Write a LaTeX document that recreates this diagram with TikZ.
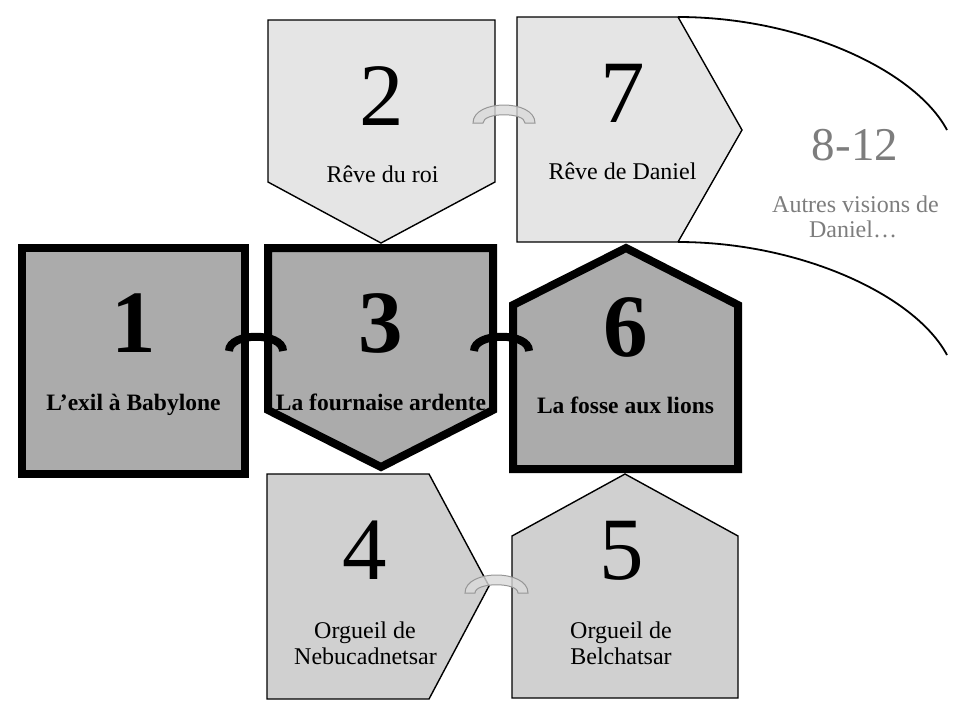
\documentclass[tikz,border=0pt]{standalone}
\usepackage{fontspec}
\setmainfont{Liberation Serif}
\definecolor{darkfill}{RGB}{171,171,171}
\definecolor{lightfill}{RGB}{229,229,229}
\definecolor{midfill}{RGB}{208,208,208}
\definecolor{txtgray}{RGB}{125,125,125}
\definecolor{linkfill}{RGB}{218,218,218}
\definecolor{linkedge}{RGB}{150,150,150}
\begin{document}
\begin{tikzpicture}[x=1pt,y=-1pt,
  thickbox/.style={draw=black, line width=8pt, fill=darkfill, line join=miter},
  thinbox/.style={draw=black, line width=1.4pt, line join=miter},
  num/.style={anchor=base, inner sep=0pt, font=\fontsize{89}{89}\selectfont},
  lbl/.style={anchor=base, inner sep=0pt, font=\fontsize{24}{25}\selectfont},
  blbl/.style={anchor=base, inner sep=0pt, font=\fontsize{23.5}{25}\selectfont\bfseries},
  darklink/.style={draw=black, line width=8pt, line cap=butt},
  greylink/.style={draw=linkedge, line width=1pt, fill=linkfill, fill opacity=0.8},
  bigcurve/.style={draw=black, line width=1.8pt}
]
\useasboundingbox (0,0) rectangle (966,715);

% light boxes
\draw[thinbox, fill=lightfill] (268,20) -- (495,20) -- (495,182) -- (381,243) -- (268,182) -- cycle;
\draw[thinbox, fill=lightfill] (517,17) coordinate (b7l) -- (678,17) coordinate (b7tr) -- (742,130) -- (678,242) coordinate (b7br) -- (517,242) -- cycle;
\draw[thinbox, fill=midfill] (267,474) -- (429,474) -- (489,586) -- (429,699) -- (267,699) -- cycle;
\draw[thinbox, fill=midfill] (512,536) -- (625,474) -- (738,536) -- (738,698) -- (512,698) -- cycle;

% dark boxes
\draw[thickbox] (22,248) rectangle (245,474);
\draw[thickbox] (268,248) -- (493,248) -- (493,410) -- (381,467) -- (268,410) -- cycle;
\draw[thickbox] (513,305) -- (626,248) -- (738,305) -- (738,469) -- (513,469) -- cycle;

% big curves towards 8-12
\coordinate (e1) at (947,130);
\coordinate (e2) at (947,355);
\draw[bigcurve] (b7tr) .. controls (800,17) and (915,70) .. (e1);
\draw[bigcurve] (b7br) .. controls (800,242) and (915,295) .. (e2);

% links
\coordinate (k13a) at (229,351); \coordinate (k13b) at (283,351);
\coordinate (k36a) at (474,351); \coordinate (k36b) at (529,351);
\draw[darklink] (k13a) .. controls (229,332) and (283,332) .. (k13b);
\draw[darklink] (k36a) .. controls (474,332) and (529,332) .. (k36b);
\draw[greylink] (473,123) .. controls (473,99) and (535,99) .. (535,123) -- (525,123) .. controls (525,112) and (483,112) .. (483,123) -- cycle;
\draw[greylink] (465,593) .. controls (465,569) and (528,569) .. (528,593) -- (518,593) .. controls (518,582) and (475,582) .. (475,593) -- cycle;

% texts
\node[num] (n1) at (134,352) {\bfseries 1};
\node[blbl] (t1) at (133.5,410) {L’exil à Babylone};
\node[num] (n3) at (381,352) {\bfseries 3};
\node[blbl] (t3) at (381,410) {La fournaise ardente};
\node[num] (n6) at (626,356) {\bfseries 6};
\node[blbl] (t6) at (625.5,413) {La fosse aux lions};

\node[num] (n2) at (382,125) {2};
\node[lbl] (t2) at (382.5,182) {Rêve du roi};
\node[num] (n7) at (623,122) {7};
\node[lbl] (t7) at (622.5,179) {Rêve de Daniel};

\node[num] (n4) at (365,579) {4};
\node[lbl] (t4a) at (365,638) {Orgueil de};
\node[lbl] (t4b) at (365.5,664) {Nebucadnetsar};
\node[num] (n5) at (622,579) {5};
\node[lbl] (t5a) at (621,638) {Orgueil de};
\node[lbl] (t5b) at (621,664) {Belchatsar};

\node[anchor=base, inner sep=0pt, text=txtgray, font=\fontsize{47}{47}\selectfont] (n8) at (855,160) {8-12};
\node[lbl, text=txtgray] (t8a) at (855.5,212) {Autres visions de};
\node[lbl, text=txtgray] (t8b) at (853,237) {Daniel…};
\end{tikzpicture}
\end{document}
